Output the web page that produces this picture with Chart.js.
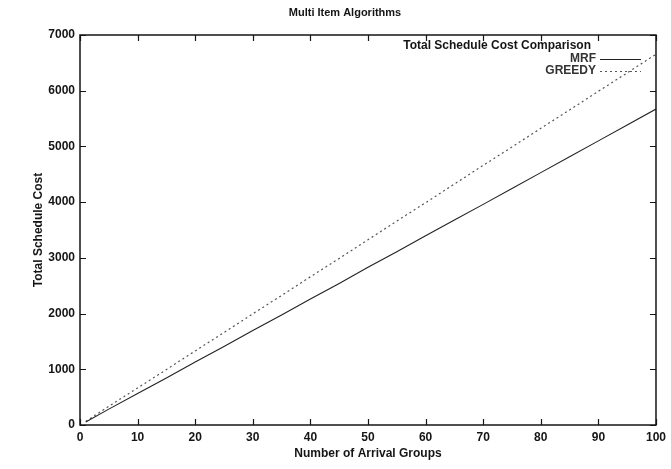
<!DOCTYPE html>
<html>
<head>
<meta charset="utf-8">
<script src="https://cdn.jsdelivr.net/npm/chart.js@4/dist/chart.umd.min.js"></script>
<style>
  html, body { margin: 0; padding: 0; background: #fff; }
  #wrap { width: 671px; height: 469px; }
</style>
</head>
<body>
<div id="wrap"><canvas id="chart" width="671" height="469"></canvas></div>
<script>
// Multi Item Algorithms — total schedule cost, MRF vs GREEDY (gnuplot-style figure)

const arrivalGroups = [1, 5, 10, 15, 20, 25, 30, 35, 40, 45, 50, 55, 60, 65, 70, 75, 80, 85, 90, 95, 100];
const mrfCost    = [55, 285, 565, 845, 1130, 1410, 1695, 1975, 2260, 2540, 2830, 3110, 3395, 3680, 3960, 4245, 4530, 4815, 5100, 5385, 5670];
const greedyCost = [65, 335, 665, 995, 1330, 1660, 1995, 2325, 2660, 2990, 3325, 3660, 3990, 4325, 4660, 4990, 5325, 5655, 5990, 6320, 6655];

const seriesNames = ["MRF", "GREEDY"];
const chartTitle  = "Multi Item Algorithms";
const legendTitle = "Total Schedule Cost Comparison";
const xTitle      = "Number of Arrival Groups";
const yTitle      = "Total Schedule Cost";

const FONT = "'Liberation Sans', Arial, sans-serif";
const INK  = "#151515";

// ---------------------------------------------------------------------------
// gnuplot look: border box, inward ticks on all sides, title, key
// ---------------------------------------------------------------------------

const framePlugin = {
  id: "frame",
  afterDatasetsDraw(chart) {
    const { ctx, chartArea: a, scales } = chart;
    ctx.save();
    ctx.strokeStyle = INK;
    ctx.lineWidth = 1.5;
    ctx.strokeRect(a.left, a.top, a.right - a.left, a.bottom - a.top);

    ctx.lineWidth = 1.2;
    ctx.beginPath();
    scales.x.ticks.forEach(t => {
      const px = Math.round(scales.x.getPixelForValue(t.value)) + 0.5;
      ctx.moveTo(px, a.bottom); ctx.lineTo(px, a.bottom - 6);
      ctx.moveTo(px, a.top);    ctx.lineTo(px, a.top + 6);
    });
    scales.y.ticks.forEach(t => {
      const py = Math.round(scales.y.getPixelForValue(t.value)) + 0.5;
      ctx.moveTo(a.left, py);  ctx.lineTo(a.left + 6, py);
      ctx.moveTo(a.right, py); ctx.lineTo(a.right - 6, py);
    });
    ctx.stroke();

    // title
    ctx.fillStyle = INK;
    ctx.font = "bold 11px " + FONT;
    ctx.textAlign = "center";
    ctx.textBaseline = "middle";
    ctx.fillText(chartTitle, 345, 13);

    // key, top-right inside the plot
    ctx.font = "bold 12px " + FONT;
    const textRight = a.right - 60;
    const sampleL = a.right - 56, sampleR = a.right - 15;
    ctx.textAlign = "right";
    ctx.fillText(legendTitle, textRight - 5, a.top + 11);
    chart.data.datasets.forEach((ds, i) => {
      const y = a.top + 24 + i * 12;
      ctx.fillStyle = "#333";
      ctx.fillText(ds.label, textRight, y);
      ctx.strokeStyle = ds.borderColor;
      ctx.lineWidth = 1;
      ctx.setLineDash(ds.borderDash || []);
      ctx.beginPath();
      ctx.moveTo(sampleL, y + 0.5);
      ctx.lineTo(sampleR, y + 0.5);
      ctx.stroke();
    });
    ctx.restore();
  },
};

const toPoints = ys => arrivalGroups.map((x, i) => ({ x, y: ys[i] }));

new Chart(document.getElementById("chart"), {
  type: "line",
  data: {
    datasets: [
      {
        label:       seriesNames[0],
        data:        toPoints(mrfCost),
        borderColor: "#222",
        borderWidth: 1.1,
        pointRadius: 0,
        tension:     0,
      },
      {
        label:       seriesNames[1],
        data:        toPoints(greedyCost),
        borderColor: "#555",
        borderWidth: 1.2,
        borderDash:  [2, 3],
        pointRadius: 0,
        tension:     0,
      },
    ],
  },
  options: {
    responsive: false,
    animation:  false,
    layout: { padding: { left: 0, right: 13, top: 35, bottom: 0 } },
    plugins: {
      legend:  { display: false },
      title:   { display: false },
      tooltip: { enabled: false },
    },
    scales: {
      x: {
        type: "linear",
        min: 0,
        max: 100,
        ticks: {
          stepSize: 10,
          padding:  5,
          color:    INK,
          font:     { family: FONT, size: 12, weight: "bold" },
        },
        grid:   { display: true, drawOnChartArea: false, drawTicks: false },
        border: { display: false },
        title: {
          display: true,
          text:    xTitle,
          color:   INK,
          font:    { family: FONT, size: 12, weight: "bold" },
          padding: { top: 4, bottom: 8 },
        },
        afterFit: s => { s.height = 44; },
      },
      y: {
        min: 0,
        max: 7000,
        ticks: {
          stepSize: 1000,
          padding:  5,
          color:    INK,
          font:     { family: FONT, size: 12, weight: "bold" },
          callback: v => String(v),
        },
        grid:   { display: true, drawOnChartArea: false, drawTicks: false },
        border: { display: false },
        title: {
          display: true,
          text:    yTitle,
          color:   INK,
          font:    { family: FONT, size: 12, weight: "bold" },
          padding: { top: 31, bottom: 4 },
        },
        afterFit: s => { s.width = 80; },
      },
    },
  },
  plugins: [framePlugin],
});
</script>
</body>
</html>
